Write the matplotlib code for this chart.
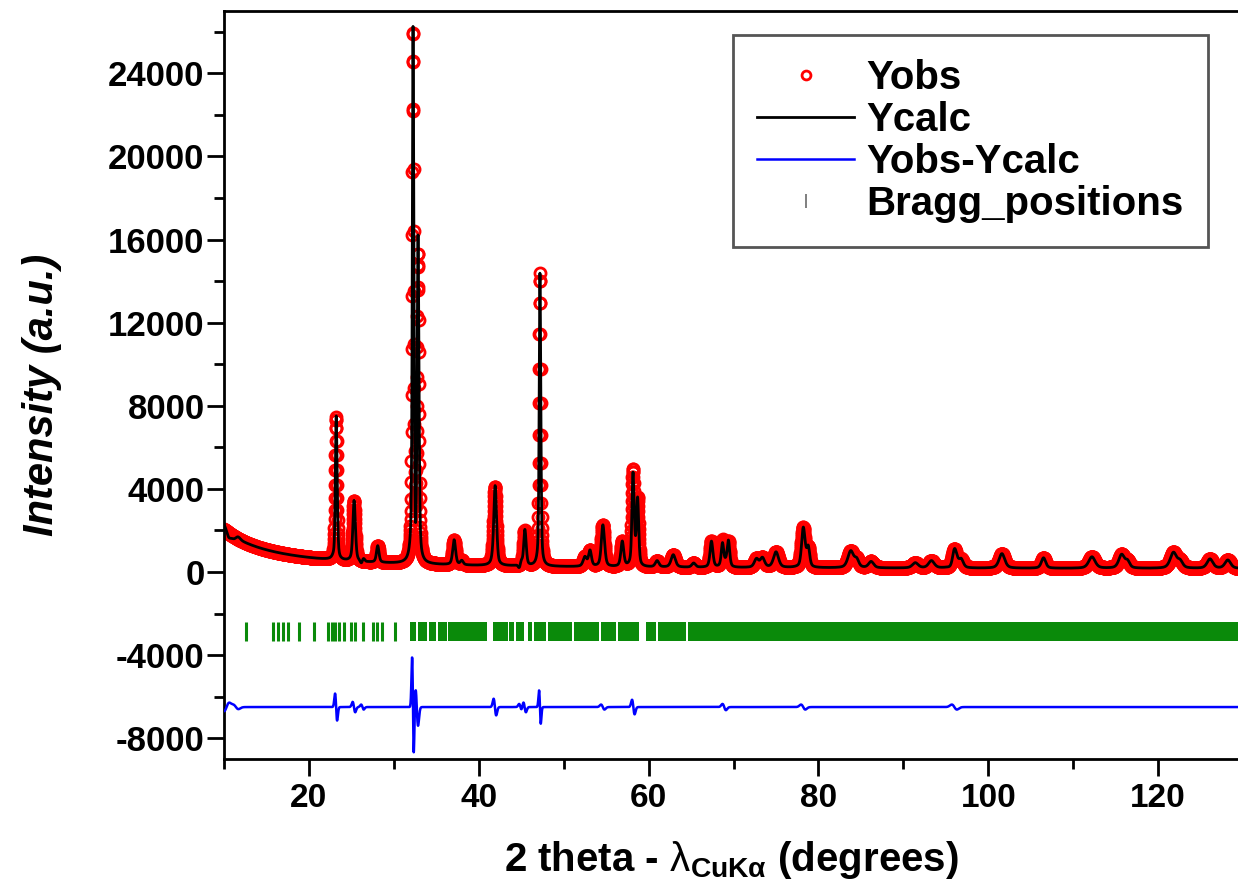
import numpy as np
import matplotlib
matplotlib.use("Agg")
import matplotlib.pyplot as plt
from matplotlib import font_manager
from matplotlib.ticker import MultipleLocator

# fonts: Origin style, Arial bold / Arial Narrow bold
names = {f.name for f in font_manager.fontManager.ttflist}
narrow = "Liberation Sans Narrow" if "Liberation Sans Narrow" in names else "Liberation Sans"
plt.rcParams["font.family"] = ["Liberation Sans", "DejaVu Sans"]
plt.rcParams["axes.unicode_minus"] = False
plt.rcParams["mathtext.fontset"] = "custom"
plt.rcParams["mathtext.rm"] = narrow
plt.rcParams["mathtext.bf"] = narrow + ":bold"

# 2theta range and step of the scan
theta_start, theta_end, theta_step = 10.0, 130.0, 0.02

# background (b0 + b1*(10/2theta)^n)
bg_b0, bg_b1, bg_n = 150.0, 1900.0, 1.8

peak_pos = [23.2, 25.3, 28.1, 32.25, 32.85, 37.1, 38.0, 41.9, 45.4, 47.2,
            52.5, 53.1, 54.6, 56.9, 58.15, 58.7, 61.0, 62.9, 65.3, 67.4,
            68.7, 69.4, 72.7, 73.4, 75.0, 78.2, 78.8, 83.8, 84.5, 86.2,
            91.4, 93.3, 96.0, 96.8, 101.6, 106.5, 112.2, 115.7, 116.4,
            121.8, 122.6, 126.1, 128.2]
peak_height = [6900, 2900, 800, 25400, 14600, 1200, 200, 3800, 1700, 14100,
               450, 750, 2000, 1200, 4600, 3200, 300, 600, 200, 1250,
               1300, 1250, 400, 450, 750, 1900, 900, 800, 350, 300,
               250, 350, 900, 400, 700, 500, 550, 650, 300,
               750, 300, 450, 400]
peak_fwhm = [0.25, 0.35, 0.35, 0.22, 0.25, 0.4, 0.4, 0.4, 0.35, 0.22,
             0.5, 0.4, 0.45, 0.4, 0.3, 0.3, 0.5, 0.6, 0.5, 0.4,
             0.35, 0.35, 0.6, 0.6, 0.7, 0.5, 0.4, 0.8, 0.6, 0.7,
             0.8, 0.8, 0.6, 0.6, 0.8, 0.6, 0.9, 0.8, 0.6,
             0.9, 0.7, 0.8, 0.8]

# misfit Yobs-Ycalc features: position, amplitude, half width
diff_pos = [10.3, 11.4, 23.2, 25.3, 26.3, 32.25, 32.7, 41.9, 44.9, 45.4,
            47.2, 54.6, 58.2, 68.9, 78.2, 96.0]
diff_amp = [-200, 100, 650, 250, 120, 2400, 900, 400, 150, 250,
            800, 120, 350, 150, 120, 120]
diff_sig = [0.3, 0.3, 0.12, 0.15, 0.15, 0.1, 0.15, 0.15, 0.15, 0.15,
            0.1, 0.2, 0.15, 0.2, 0.25, 0.3]
diff_offset = -6500

# Bragg reflections: isolated ticks and dense runs
bragg_pos = [12.6, 15.8, 16.4, 17.0, 17.5, 18.8, 20.6, 22.3, 22.7, 23.1,
             23.5, 24.1, 25.0, 25.4, 26.4, 27.6, 28.0, 28.6, 30.1]
bragg_bands = [(31.9, 32.6), (32.8, 33.9), (34.1, 35.0), (35.2, 36.2),
               (36.4, 41.0), (41.7, 43.4), (43.6, 44.2), (44.4, 45.3),
               (45.8, 46.3), (46.5, 47.9), (48.1, 51.0), (51.2, 54.2),
               (54.4, 56.2), (56.4, 58.9), (59.7, 60.9), (61.1, 64.4),
               (64.6, 130.0)]
bragg_lo, bragg_hi = -3300, -2400

twotheta = np.arange(theta_start, theta_end + theta_step / 2, theta_step)
yobs = bg_b0 + bg_b1 * (10.0 / twotheta) ** bg_n
for p, h, w in zip(peak_pos, peak_height, peak_fwhm):
    g = np.exp(-4 * np.log(2) * ((twotheta - p) / w) ** 2)
    l = 1.0 / (1.0 + 4 * ((twotheta - p) / w) ** 2)
    yobs += h * (0.5 * g + 0.5 * l)

diff = np.zeros_like(twotheta)
for p, a, s in zip(diff_pos, diff_amp, diff_sig):
    u = (twotheta - p) / s
    diff += a * (-u) * np.exp(0.5 - u ** 2 / 2)
ycalc = yobs - diff

fig = plt.figure(figsize=(12.38, 8.94), dpi=100)
ax = fig.add_axes([224 / 1238, 135 / 894, 1 - 224 / 1238, 748 / 894])

ax.plot(twotheta, yobs, "o", mfc="none", mec="red", ms=8, mew=2,
        label="Yobs", zorder=2)
ax.plot(twotheta, ycalc, color="black", lw=2, label="Ycalc", zorder=3)
ax.plot(twotheta, diff + diff_offset, color="blue", lw=1.8,
        label="Yobs-Ycalc", zorder=3)
ax.vlines(bragg_pos, bragg_lo, bragg_hi, color="#0a8a0a", lw=2.2, zorder=2)
ax.broken_barh([(a, b - a) for a, b in bragg_bands],
               (bragg_lo, bragg_hi - bragg_lo), color="#0a8a0a", lw=0, zorder=2)
ax.plot([], [], "|", color="dimgray", ms=12, mew=1.2, label="Bragg_positions")

ax.set_xlim(10, 129.4)
ax.set_ylim(-9000, 27000)
ax.yaxis.set_major_locator(MultipleLocator(4000))
ax.yaxis.set_minor_locator(MultipleLocator(2000))
ax.xaxis.set_major_locator(MultipleLocator(20))
ax.xaxis.set_minor_locator(MultipleLocator(10))
ax.spines["right"].set_visible(False)
for s in ax.spines.values():
    s.set_linewidth(2)
ax.tick_params(which="both", top=False, right=False, width=2)
ax.tick_params(which="major", length=12)
ax.tick_params(which="minor", length=7)
ax.tick_params(axis="y", labelsize=25, pad=2)
ax.tick_params(axis="x", labelsize=24, pad=5)
for t in ax.get_yticklabels():
    t.set_fontweight("bold")
for t in ax.get_xticklabels():
    t.set_fontweight("bold")
    t.set_family([narrow, "Liberation Sans"])

ax.set_ylabel("Intensity (a.u.)", fontsize=30, fontweight="bold",
              fontstyle="italic")
ax.yaxis.set_label_coords(-0.160, 0.487)
ax.set_xlabel(r"2 theta - $\mathrm{\lambda}_{\mathbf{CuK\alpha}}$ (degrees)",
              fontsize=29, fontweight="bold", family=[narrow, "Liberation Sans"],
              labelpad=18)

leg = ax.legend(loc="upper right", bbox_to_anchor=(0.970, 0.968),
                borderaxespad=0, labelspacing=0.1,
                handlelength=2.4, handletextpad=0.3, borderpad=0.6,
                fancybox=False, framealpha=1, prop={"weight": "bold", "size": 29},
                markerscale=0.8)
leg.get_frame().set_edgecolor("#555555")
leg.get_frame().set_linewidth(2)

fig.savefig("out.png", dpi=100)
